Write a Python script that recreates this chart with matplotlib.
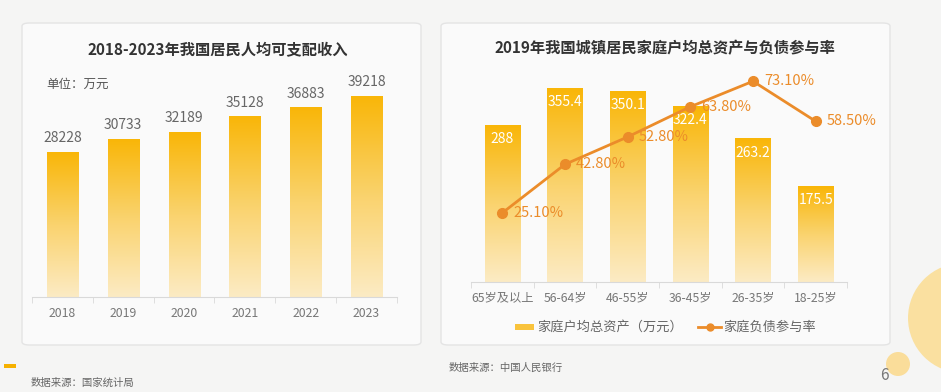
import numpy as np
import matplotlib.pyplot as plt
from matplotlib.patches import FancyBboxPatch, Circle, Rectangle
from matplotlib.colors import LinearSegmentedColormap
from matplotlib.lines import Line2D

plt.rcParams['font.family'] = ['Noto Sans CJK SC', 'DejaVu Sans']

# data
years = ['2018', '2019', '2020', '2021', '2022', '2023']
income = [28228, 30733, 32189, 35128, 36883, 39218]

ages = ['65岁及以上', '56-64岁', '46-55岁', '36-45岁', '26-35岁', '18-25岁']
assets = [288, 355.4, 350.1, 322.4, 263.2, 175.5]
debt_rate = [25.10, 42.80, 52.80, 63.80, 73.10, 58.50]

W, H = 941, 392
fig = plt.figure(figsize=(W / 100, H / 100), dpi=100)
fig.patch.set_facecolor('#F5F5F4')

def fx(x):
    return x / W

def fy(y):
    return 1 - y / H

# background decoration (pixel coords -> inches)
for cx, cy, r, c in [(963, 318, 55, '#FBDD92'), (898, 364, 12, '#FBD98A')]:
    fig.patches.append(Circle((cx / 100, (H - cy) / 100), r / 100,
                              transform=fig.dpi_scale_trans, facecolor=c,
                              edgecolor='none', alpha=0.85, zorder=0))

# cards
for x0, x1 in [(22, 421), (441, 890)]:
    fig.patches.append(FancyBboxPatch((fx(x0), fy(345)), fx(x1 - x0), 322 / H,
                                      boxstyle='round,pad=0,rounding_size=0.008',
                                      transform=fig.transFigure, facecolor='#FAFAFA',
                                      edgecolor='#E4E4E4', linewidth=1, zorder=1))

grad = LinearSegmentedColormap.from_list('g', ['#FCEBC4', '#FAD36E', '#F9B608'])
gimg = np.linspace(0, 1, 256).reshape(-1, 1)

def grad_bars(ax, vals, width):
    for i, v in enumerate(vals):
        ax.imshow(gimg, cmap=grad, origin='lower', aspect='auto',
                  extent=[i - width / 2, i + width / 2, 0, v], zorder=2)

def style_axis(ax, labels):
    ax.set_xlim(-0.5, len(labels) - 0.5)
    ax.set_facecolor('none')
    for s in ['top', 'right', 'left']:
        ax.spines[s].set_visible(False)
    ax.spines['bottom'].set_color('#D9D9D9')
    ax.set_yticks([])
    ax.set_xticks(range(len(labels)))
    ax.set_xticklabels(labels, fontsize=8.8, color='#777777')
    ax.tick_params(axis='x', which='major', length=0, pad=7)
    ax.set_xticks(np.arange(-0.5, len(labels), 1), minor=True)
    ax.tick_params(axis='x', which='minor', length=4, color='#D9D9D9', direction='out')

# left chart
ax1 = fig.add_axes([fx(32), fy(297), fx(365), 230.6 / H], zorder=3)
grad_bars(ax1, income, 0.51)
ax1.set_ylim(0, 45000)
style_axis(ax1, years)
for i, v in enumerate(income):
    ax1.text(i, v + 1400, str(v), ha='center', va='bottom', fontsize=10, color='#666666')
fig.text(fx(218), fy(50), '2018-2023年我国居民人均可支配收入', ha='center', va='center',
         fontsize=11, fontweight='bold', color='#333333')
fig.text(fx(46), fy(84), '单位：万元', ha='left', va='center', fontsize=9, color='#555555')

# right chart
ax2 = fig.add_axes([fx(471), fy(281.7), fx(376), 211.7 / H], zorder=3)
grad_bars(ax2, assets, 0.56)
ax2.set_ylim(0, 389)
style_axis(ax2, ages)
for i, v in enumerate(assets):
    ax2.text(i, v - 13, f'{v:g}', ha='center', va='top', fontsize=10, color='white')

ax3 = ax2.twinx()
ax3.set_zorder(4)
ax3.set_ylim(0, 77.2)
ax3.axis('off')
line_c = '#EB8C2A'
ax3.plot(range(len(debt_rate)), debt_rate, color=line_c, linewidth=2, marker='o',
         markersize=7, zorder=4)
for i, v in enumerate(debt_rate):
    ax3.annotate(f'{v:.2f}%', (i, v), xytext=(8, 0), textcoords='offset points',
                 ha='left', va='center', fontsize=10.5, color=line_c, zorder=5)

fig.text(fx(665), fy(48), '2019年我国城镇居民家庭户均总资产与负债参与率', ha='center',
         va='center', fontsize=11, fontweight='bold', color='#333333')

# legend
fig.patches.append(Rectangle((fx(515), fy(330)), fx(19), 6 / H, transform=fig.transFigure,
                             facecolor='#F9C33C', edgecolor='none', zorder=3))
fig.text(fx(537), fy(327), '家庭户均总资产（万元）', ha='left', va='center', fontsize=9.5,
         color='#666666', zorder=3)
fig.lines.append(Line2D([fx(698), fx(721)], [fy(327), fy(327)], transform=fig.transFigure,
                        color=line_c, linewidth=2, zorder=3))
fig.lines.append(Line2D([fx(709.5)], [fy(327)], transform=fig.transFigure, color=line_c,
                        marker='o', markersize=5, zorder=3))
fig.text(fx(723), fy(327), '家庭负债参与率', ha='left', va='center', fontsize=9.5,
         color='#666666', zorder=3)

# footer
fig.patches.append(Rectangle((fx(4), fy(368)), fx(12), 4 / H, transform=fig.transFigure,
                             facecolor='#F6B100', edgecolor='none'))
fig.text(fx(31), fy(383), '数据来源：国家统计局', ha='left', va='center', fontsize=7.5,
         color='#666666')
fig.text(fx(449), fy(368), '数据来源：中国人民银行', ha='left', va='center', fontsize=7.5,
         color='#666666')
fig.text(fx(884), fy(376), '6', ha='center', va='center', fontsize=11, color='#777777')

fig.savefig('out.png', dpi=100, facecolor=fig.get_facecolor())
